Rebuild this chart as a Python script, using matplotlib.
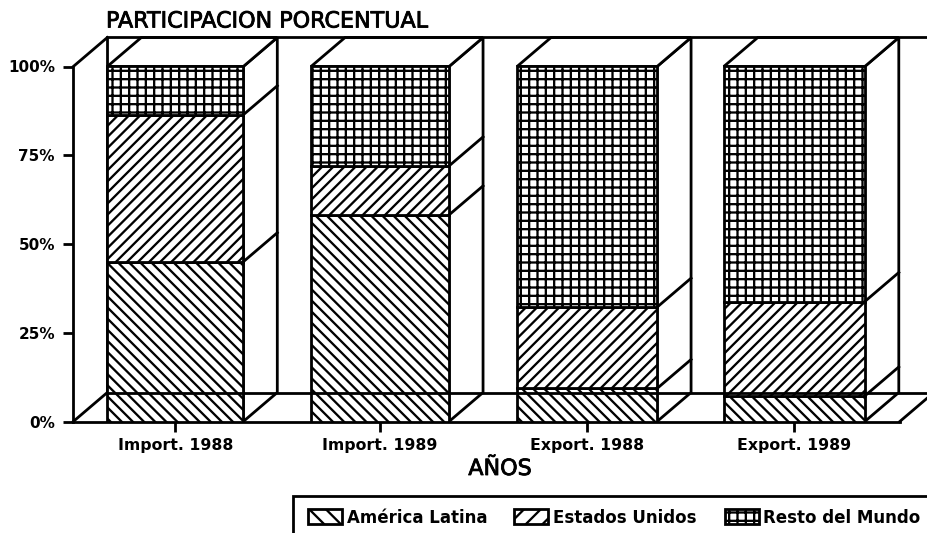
import numpy as np
import matplotlib
matplotlib.use("Agg")
import matplotlib.pyplot as plt
import matplotlib.patheffects as pe
from matplotlib.patches import Polygon, Rectangle

categories = ["Import. 1988", "Import. 1989", "Export. 1988", "Export. 1989"]
latina = [45.0, 58.2, 9.3, 7.2]
estados = [41.4, 13.8, 22.9, 26.6]
resto = [13.6, 28.0, 67.8, 66.2]
series_names = ["América Latina", "Estados Unidos", "Resto del Mundo"]
y_ticks = [0, 25, 50, 75, 100]
y_labels = ["0%", "25%", "50%", "75%", "100%"]

W, H = 927, 533
plt.rcParams["hatch.linewidth"] = 1.65
plt.rcParams["font.family"] = "DejaVu Sans"
fig = plt.figure(figsize=(W / 100, H / 100), dpi=100, facecolor="white")

px_left, px_right, px_zero, px_hundred, px_top = 73, 927, 421.5, 66.5, 37
ax = fig.add_axes([px_left / W, 1 - px_zero / H, (px_right - px_left) / W, (px_zero - px_top) / H])
px_per_cat = 206.4
ax.set_xlim((px_left - 175.3) / px_per_cat, (px_right - 175.3) / px_per_cat)
px_per_pct = (px_zero - px_hundred) / 100
ax.set_ylim(0, (px_zero - px_top) / px_per_pct)
ax.set_facecolor("none")

LW = 2.0
dx = 34 / px_per_cat
dy = 29 / px_per_pct
xs = np.array([0, 0.992, 1.995, 2.999])
bws = np.array([136, 138, 140, 141]) / px_per_cat
line = dict(color="black", lw=LW, solid_capstyle="projecting", clip_on=False)

# back wall and floor
left0 = xs[0] - bws[0] / 2
ax.plot([left0, left0], [dy, 100 + dy], zorder=1, **line)
ax.plot([left0 - dx, left0], [100, 100 + dy], zorder=1, **line)
ax.plot([left0 - dx, left0], [0, dy], zorder=1, **line)
floor_end = xs[-1] + bws[-1] / 2 + 35 / px_per_cat
ax.plot([floor_end, floor_end + dx], [0, dy], zorder=5, **line)

bottoms = np.zeros(4)
hatches = ["\\\\\\", "///", "++"]
swatch_hatches = ["\\\\", "//", "++"]
for vals, h in zip([latina, estados, resto], hatches):
    vals = np.array(vals)
    ax.bar(xs, vals, width=bws, bottom=bottoms, facecolor="white", edgecolor="black",
           hatch=h, linewidth=LW, zorder=3)
    bottoms = bottoms + vals

# sides and tops of each 3D bar
for i, x in enumerate(xs):
    r = x + bws[i] / 2
    l = x - bws[i] / 2
    ax.add_patch(Polygon([(r, 0), (r + dx, dy), (r + dx, 100 + dy), (r, 100)], closed=True,
                         facecolor="white", edgecolor="black", lw=LW, zorder=2))
    ax.add_patch(Polygon([(l, 100), (l + dx, 100 + dy), (r + dx, 100 + dy), (r, 100)], closed=True,
                         facecolor="white", edgecolor="black", lw=LW, zorder=2, clip_on=False))
    for level in (latina[i], latina[i] + estados[i]):
        ax.plot([r, r + dx], [level, level + dy], zorder=4, **line)

# back floor line in front of the bars
ax.plot([left0, ax.get_xlim()[1]], [dy, dy], zorder=5, **line)

ax.spines["right"].set_visible(False)
for s in ("left", "bottom", "top"):
    ax.spines[s].set_linewidth(LW)
ax.spines["left"].set_bounds(0, 100)
ax.spines["bottom"].set_bounds(ax.get_xlim()[0], floor_end)
ax.spines["top"].set_bounds(left0, ax.get_xlim()[1])

ax.set_xticks(xs)
ax.set_xticklabels(categories, fontsize=11.3, fontweight="bold")
ax.set_yticks(y_ticks)
ax.set_yticklabels(y_labels, fontsize=11, fontweight="bold")
ax.tick_params(axis="both", width=LW, length=7, pad=6)
ax.tick_params(axis="x", pad=5)


def fx(x):
    return x / W


def fy(y):
    return 1 - y / H


heavy = [pe.withStroke(linewidth=0.6, foreground="black")]
fig.text(fx(106), fy(21.5), "PARTICIPACION PORCENTUAL", fontsize=16, va="center", ha="left", path_effects=heavy)
fig.text(fx(500), fy(469), "AÑOS", fontsize=16, va="center", ha="center", path_effects=heavy)

fig.add_artist(Rectangle((fx(293), fy(560)), 1000 / W, (560 - 496) / H, transform=fig.transFigure,
                         facecolor="none", edgecolor="black", lw=LW))
for sx, tx, h, name in zip([308, 514, 725], [347, 553, 763], swatch_hatches, series_names):
    fig.add_artist(Rectangle((fx(sx), fy(524)), 34 / W, 15 / H, transform=fig.transFigure,
                             facecolor="white", edgecolor="black", lw=LW, hatch=h))
    fig.text(fx(tx), fy(518), name, fontsize=12, fontweight="bold", va="center", ha="left")

fig.savefig("out.png", dpi=100)
